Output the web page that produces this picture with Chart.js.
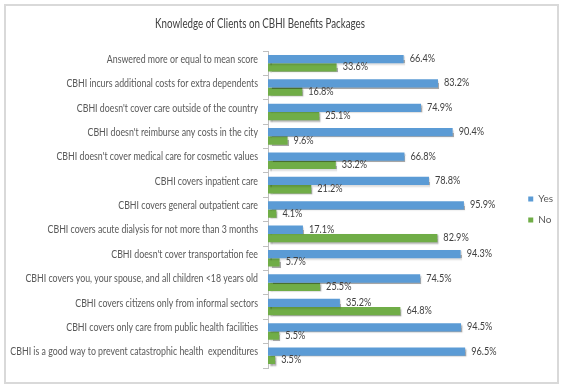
<!DOCTYPE html>
<html><head><meta charset="utf-8">
<script src="https://cdn.jsdelivr.net/npm/chart.js@4"></script>
<style>html,body{margin:0;padding:0;background:#fff}#wrap{width:566px;height:388px;position:relative}</style>
</head><body><div id="wrap"><canvas id="c" width="566" height="388"></canvas></div>
<script>
const categories = [
  "Answered more or equal to mean score",
  "CBHI incurs additional costs for extra dependents",
  "CBHI doesn't cover care outside of the country",
  "CBHI doesn't reimburse any costs in the city",
  "CBHI doesn't cover medical care for cosmetic values",
  "CBHI covers inpatient care",
  "CBHI covers general outpatient care",
  "CBHI covers acute dialysis for not more than 3 months",
  "CBHI doesn't cover transportation fee",
  "CBHI covers you, your spouse, and all children <18 years old",
  "CBHI covers citizens only from informal sectors",
  "CBHI covers only care from public health facilities",
  "CBHI is a good way to prevent catastrophic health  expenditures"
];
const yesValues = [66.4, 83.2, 74.9, 90.4, 66.8, 78.8, 95.9, 17.1, 94.3, 74.5, 35.2, 94.5, 96.5];
const noValues  = [33.6, 16.8, 25.1, 9.6, 33.2, 21.2, 4.1, 82.9, 5.7, 25.5, 64.8, 5.5, 3.5];
const seriesNames = ["Yes", "No"];
const titleText = "Knowledge of Clients on CBHI Benefits Packages";

const FONT = "Lato, sans-serif";

function condensedText(ctx, text, x, y, factor) {
  const w = ctx.measureText(text).width;
  ctx.fillText(text, x, y, w * factor);
}

const borderPlugin = {
  id: 'outerBorder',
  beforeDraw(chart) {
    const ctx = chart.ctx;
    ctx.save();
    ctx.fillStyle = '#fff';
    ctx.fillRect(0, 0, chart.width, chart.height);
    ctx.strokeStyle = '#d9d9d9';
    ctx.lineWidth = 2;
    ctx.strokeRect(5, 5, 553, 378);
    // title
    ctx.font = "13px " + FONT;
    ctx.fillStyle = '#404040';
    ctx.textAlign = 'center';
    ctx.textBaseline = 'middle';
    condensedText(ctx, titleText, 260, 24, 0.75);
    ctx.restore();
  }
};
const shadowPlugin = {
  id: 'barShadow',
  beforeDatasetDraw(chart) {
    const ctx = chart.ctx;
    ctx.save();
    ctx.shadowColor = 'rgba(0,0,0,0.35)';
    ctx.shadowOffsetX = 1.5;
    ctx.shadowOffsetY = 1.5;
    ctx.shadowBlur = 1.5;
  },
  afterDatasetDraw(chart) { chart.ctx.restore(); }
};
const labelPlugin = {
  id: 'valueLabels',
  afterDatasetsDraw(chart) {
    const ctx = chart.ctx;
    ctx.save();
    ctx.font = "11px " + FONT;
    ctx.fillStyle = '#404040';
    ctx.textAlign = 'left';
    ctx.textBaseline = 'middle';
    chart.data.datasets.forEach((ds, i) => {
      const meta = chart.getDatasetMeta(i);
      meta.data.forEach((bar, j) => {
        condensedText(ctx, ds.data[j].toFixed(1) + '%', bar.x + 6, bar.y - 0.5, 0.83);
      });
    });
    // category labels
    const ys = chart.scales.y;
    ctx.fillStyle = '#595959';
    ctx.textAlign = 'right';
    chart.data.labels.forEach((lab, i) => {
      condensedText(ctx, lab, ys.right - 10, ys.getPixelForTick(i) - 4, 0.8);
    });
    ctx.restore();
  }
};

new Chart(document.getElementById('c'), {
  type: 'bar',
  data: {
    labels: categories,
    datasets: [
      { label: seriesNames[0], data: yesValues, backgroundColor: '#5B9BD5', barPercentage: 1.0, categoryPercentage: 0.68 },
      { label: seriesNames[1], data: noValues, backgroundColor: '#70AD47', barPercentage: 1.0, categoryPercentage: 0.68 }
    ]
  },
  options: {
    indexAxis: 'y',
    responsive: false,
    animation: false,
    devicePixelRatio: 1,
    layout: { padding: { left: 0, right: 3, top: 51, bottom: 20 } },
    plugins: {
      title: { display: false },
      legend: {
        position: 'right',
        labels: {
          boxWidth: 5, boxHeight: 5, padding: 11, color: '#595959',
          font: { family: FONT, size: 10 }
        }
      },
      tooltip: { enabled: false }
    },
    scales: {
      x: { display: false, min: 0, max: 122 },
      y: {
        afterFit(scale) { scale.width = 268; },
        grid: { drawOnChartArea: false, drawTicks: true, tickLength: 5, color: '#bfbfbf', offset: true },
        border: { display: true, color: '#bfbfbf' },
        ticks: { display: false, autoSkip: false }
      }
    }
  },
  plugins: [borderPlugin, shadowPlugin, labelPlugin]
});
</script>
</body></html>
